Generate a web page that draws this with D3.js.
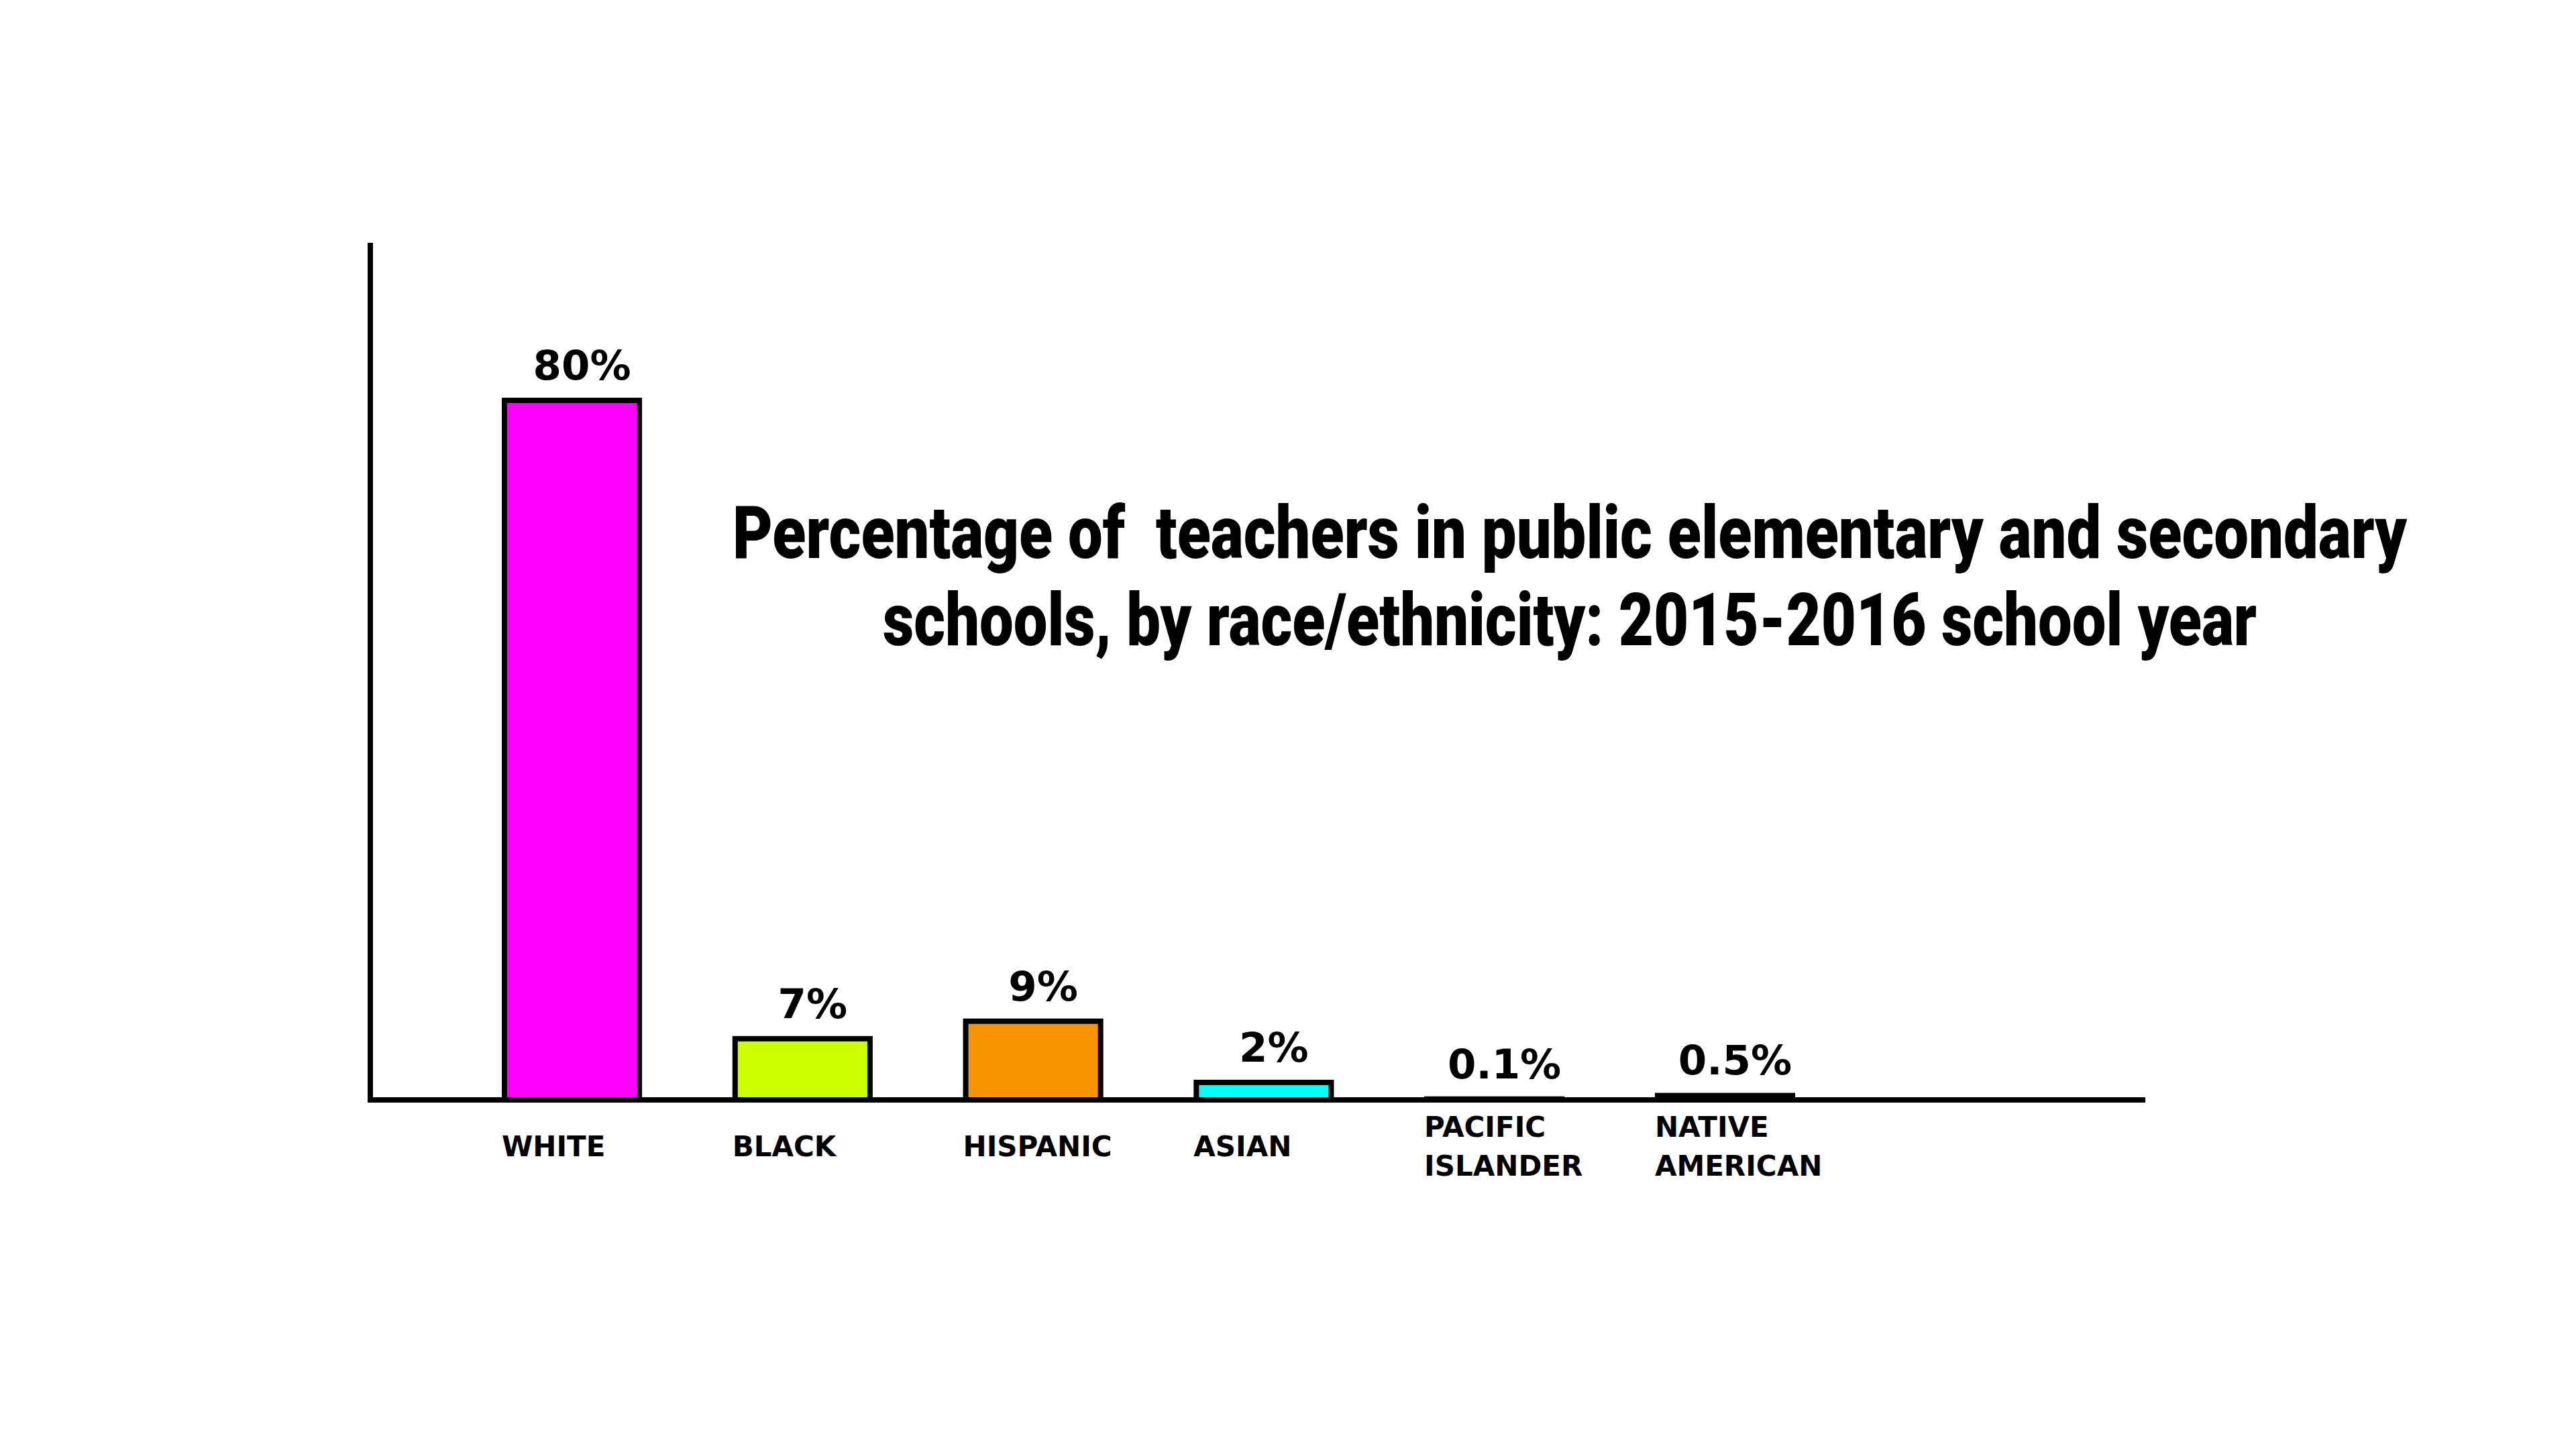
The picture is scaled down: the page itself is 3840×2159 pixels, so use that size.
<!DOCTYPE html>
<meta charset="utf-8">
<title>Teachers by race/ethnicity</title>
<style>
html, body {
  margin: 0;
  padding: 0;
  background: #fff;
}
svg {
  display: block;
}
.title {
  font-family: Roboto, "Liberation Sans", Arial, sans-serif;
  font-weight: 900;
  white-space: pre;
}
.value {
  font-family: "DejaVu Sans", sans-serif;
  font-weight: bold;
}
.cat {
  font-family: "DejaVu Sans", sans-serif;
  font-weight: bold;
}
</style>
<body>
<script src="https://cdn.jsdelivr.net/npm/d3@7"></script>
<script>
'use strict';

// data
const categories = ["WHITE", "BLACK", "HISPANIC", "ASIAN", "PACIFIC ISLANDER", "NATIVE AMERICAN"];
const values = [80, 7, 9, 2, 0.1, 0.5];
const valueLabels = ["80%", "7%", "9%", "2%", "0.1%", "0.5%"];
const barColors = ["#ff00ff", "#ccff00", "#f79400", "#00ffff", "#ffffff", "#ffffff"];
const titleLines = [
  "Percentage of  teachers in public elementary and secondary",
  "schools, by race/ethnicity: 2015-2016 school year"
];

const width = 3840,
      height = 2159;

// plot frame
const axisLeft = 552, axisRight = 3198, axisTop = 362, axisBottom = 1640;

const x = d3.scaleBand()
    .domain(categories)
    .range([752, 2672])
    .paddingInner(0.415)
    .paddingOuter(0);

const y = d3.scaleLinear()
    .domain([0, 80])
    .range([axisBottom, 597]);

const svg = d3.select("body").append("svg")
    .attr("width", width)
    .attr("height", height);

svg.append("rect")
    .attr("width", width)
    .attr("height", height)
    .attr("fill", "#fff");

const rows = categories.map((c, i) => ({cat: c, value: values[i], label: valueLabels[i], color: barColors[i]}));

// bars
svg.append("g").selectAll("rect")
    .data(rows)
  .enter().append("rect")
    .attr("x", d => x(d.cat))
    .attr("y", d => y(d.value))
    .attr("width", x.bandwidth())
    .attr("height", d => y(0) - y(d.value))
    .attr("fill", d => d.color)
    .attr("stroke", "#000")
    .attr("stroke-width", 8);

// axes (plain lines, no ticks)
svg.append("line")
    .attr("x1", axisLeft).attr("x2", axisLeft)
    .attr("y1", axisTop).attr("y2", axisBottom + 4)
    .attr("stroke", "#000").attr("stroke-width", 8);

svg.append("line")
    .attr("x1", axisLeft - 4).attr("x2", axisRight)
    .attr("y1", axisBottom).attr("y2", axisBottom)
    .attr("stroke", "#000").attr("stroke-width", 8);

// value labels
svg.append("g").selectAll("text")
    .data(rows)
  .enter().append("text")
    .attr("class", "value")
    .attr("x", d => x(d.cat) + x.bandwidth() / 2 + 15)
    .attr("y", d => y(d.value) - 31)
    .attr("text-anchor", "middle")
    .style("font-size", "61px")
    .text(d => d.label);

// category labels
const cats = svg.append("g").selectAll("text")
    .data(rows)
  .enter().append("text")
    .attr("class", "cat")
    .style("font-size", "42px")
    .attr("x", d => x(d.cat) - 4)
    .attr("y", 1724);

cats.selectAll("tspan")
    .data(d => {
      const parts = d.cat.split(" ");
      return parts.map((p, i) => ({p: p, i: i, n: parts.length, x: x(d.cat) - 4}));
    })
  .enter().append("tspan")
    .attr("x", t => t.x)
    .attr("y", t => 1724 - (t.n - 1) * 29 + t.i * 58)
    .text(t => t.p);

// title
const titleWidths = [2496, 2048];
svg.append("g").selectAll("text")
    .data(titleLines)
  .enter().append("text")
    .attr("class", "title")
    .attr("x", 2340)
    .attr("y", (d, i) => 832 + i * 130)
    .attr("text-anchor", "middle")
    .attr("textLength", (d, i) => titleWidths[i])
    .attr("lengthAdjust", "spacingAndGlyphs")
    .style("font-size", "110px")
    .text(d => d);
</script>
</body>
